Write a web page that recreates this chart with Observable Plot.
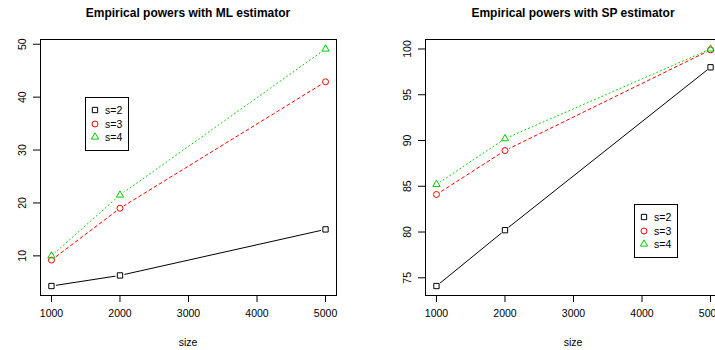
<!DOCTYPE html>
<html><head>
<meta charset="utf-8">
<script src="https://cdn.jsdelivr.net/npm/d3@7"></script>
<script src="https://cdn.jsdelivr.net/npm/@observablehq/plot@0.6"></script>
<style>
body{margin:0;background:#fff;font-family:"Liberation Sans",Arial,Helvetica,sans-serif;}
#wrap{position:relative;width:715px;height:350px;overflow:hidden;background:#fff;}
.panel{position:absolute;top:0;}
.title{position:absolute;font-weight:bold;font-size:12px;transform:translate(-50%,-50%);white-space:nowrap;top:13px;color:#000;}
.xlab{position:absolute;font-size:10.5px;transform:translate(-50%,-50%);top:342px;color:#000;}
.legend{position:absolute;border:1px solid #000;background:#fff;box-sizing:border-box;}
.legend .row{position:absolute;left:0;height:14px;font-size:10.5px;line-height:14px;}
.legend svg{position:absolute;left:5px;top:3px;overflow:visible}
.legend span{position:absolute;left:19px;white-space:nowrap;}
</style>
</head><body>
<div id="wrap"></div>
<script>
// ---- data ----
const sizes = [1000, 2000, 5000];
const seriesNames = ["s=2", "s=3", "s=4"];
const mlS2 = [4.3, 6.3, 15.0];
const mlS3 = [9.2, 19.0, 42.9];
const mlS4 = [10.0, 21.5, 49.1];
const spS2 = [74.1, 80.2, 98.0];
const spS3 = [84.1, 88.9, 99.9];
const spS4 = [85.2, 90.2, 100.0];
const xTicks = [1000, 2000, 3000, 4000, 5000];
const mlYTicks = [10, 20, 30, 40, 50];
const spYTicks = [75, 80, 85, 90, 95, 100];
const titles = ["Empirical powers with ML estimator", "Empirical powers with SP estimator"];
const xLabel = "size";

// ---- styles ----
const colors = ["#000000", "#FF0000", "#00CD00"];
const symbols = ["square", "circle", "triangle"];
const radii = [3, 3, 2.7];
const dashes = [null, "3,3", "1,3"];

function rExtent(vals) {
  const [a, b] = d3.extent(vals);
  const d = (b - a) * 0.04;
  return [a - d, b + d];
}

function panel(seriesVals, yTicks, opt) {
  const rows = [];
  seriesVals.forEach((vals, i) => vals.forEach((v, j) => rows.push({size: sizes[j], value: v, s: seriesNames[i], i})));
  const marks = [
    Plot.frame({stroke: "#000"}),
    Plot.axisX({ticks: xTicks, tickSize: 7, tickPadding: 7, fontSize: 10.5, label: null, tickFormat: d => String(d)}),
    Plot.axisY({ticks: yTicks, tickSize: 7, tickPadding: 8, tickRotate: -90, fontSize: 10.5, label: null, tickFormat: d => String(d)})
  ];
  seriesNames.forEach((s, i) => {
    marks.push(Plot.line(rows.filter(d => d.i === i), {x: "size", y: "value", stroke: colors[i], strokeWidth: 1, strokeDasharray: dashes[i]}));
  });
  marks.push(Plot.dot(rows, {x: "size", y: "value", r: 4.6, fill: "white", stroke: null}));
  seriesNames.forEach((s, i) => {
    marks.push(Plot.dot(rows.filter(d => d.i === i), {x: "size", y: "value", symbol: () => symbols[i], stroke: colors[i], fill: "none", r: radii[i], strokeWidth: 1}));
  });
  return Plot.plot({
    width: opt.width, height: 350,
    marginTop: 39, marginBottom: 55, marginLeft: opt.ml, marginRight: opt.mr,
    style: {fontFamily: '"Liberation Sans", Arial, sans-serif', color: "#000", background: "white"},
    x: {domain: rExtent(sizes), axis: null},
    y: {domain: rExtent(seriesVals.flat()), axis: null},
    symbol: {type: "identity"},
    marks
  });
}

function legend(left, top) {
  const lg = document.createElement("div");
  lg.className = "legend";
  lg.style.left = left + "px"; lg.style.top = top + "px";
  lg.style.width = "44px"; lg.style.height = "54px";
  seriesNames.forEach((s, i) => {
    const row = document.createElement("div");
    row.className = "row";
    row.style.top = (5 + i * 13.7) + "px";
    const svg = d3.create("svg").attr("width", 8).attr("height", 8);
    const sym = {square: d3.symbolSquare, circle: d3.symbolCircle, triangle: d3.symbolTriangle}[symbols[i]];
    svg.append("path").attr("transform", "translate(4,4)")
      .attr("d", d3.symbol(sym, Math.PI * radii[i] * radii[i])())
      .attr("fill", "none").attr("stroke", colors[i]);
    row.appendChild(svg.node());
    const sp = document.createElement("span");
    sp.textContent = s;
    row.appendChild(sp);
    lg.appendChild(row);
  });
  return lg;
}

const wrap = document.getElementById("wrap");
const p1 = panel([mlS2, mlS3, mlS4], mlYTicks, {width: 357, ml: 40, mr: 21});
p1.classList.add("panel"); p1.style.left = "0px";
wrap.appendChild(p1);
const p2 = panel([spS2, spS3, spS4], spYTicks, {width: 385, ml: 68, mr: 21});
p2.classList.add("panel"); p2.style.left = "357px";
wrap.appendChild(p2);

[[188, titles[0]], [573, titles[1]]].forEach(([cx, t]) => {
  const d = document.createElement("div"); d.className = "title"; d.style.left = cx + "px"; d.textContent = t; wrap.appendChild(d);
});
[188, 573].forEach(cx => {
  const d = document.createElement("div"); d.className = "xlab"; d.style.left = cx + "px"; d.textContent = xLabel; wrap.appendChild(d);
});
wrap.appendChild(legend(85, 97));
wrap.appendChild(legend(634, 204));
</script>
</body></html>
